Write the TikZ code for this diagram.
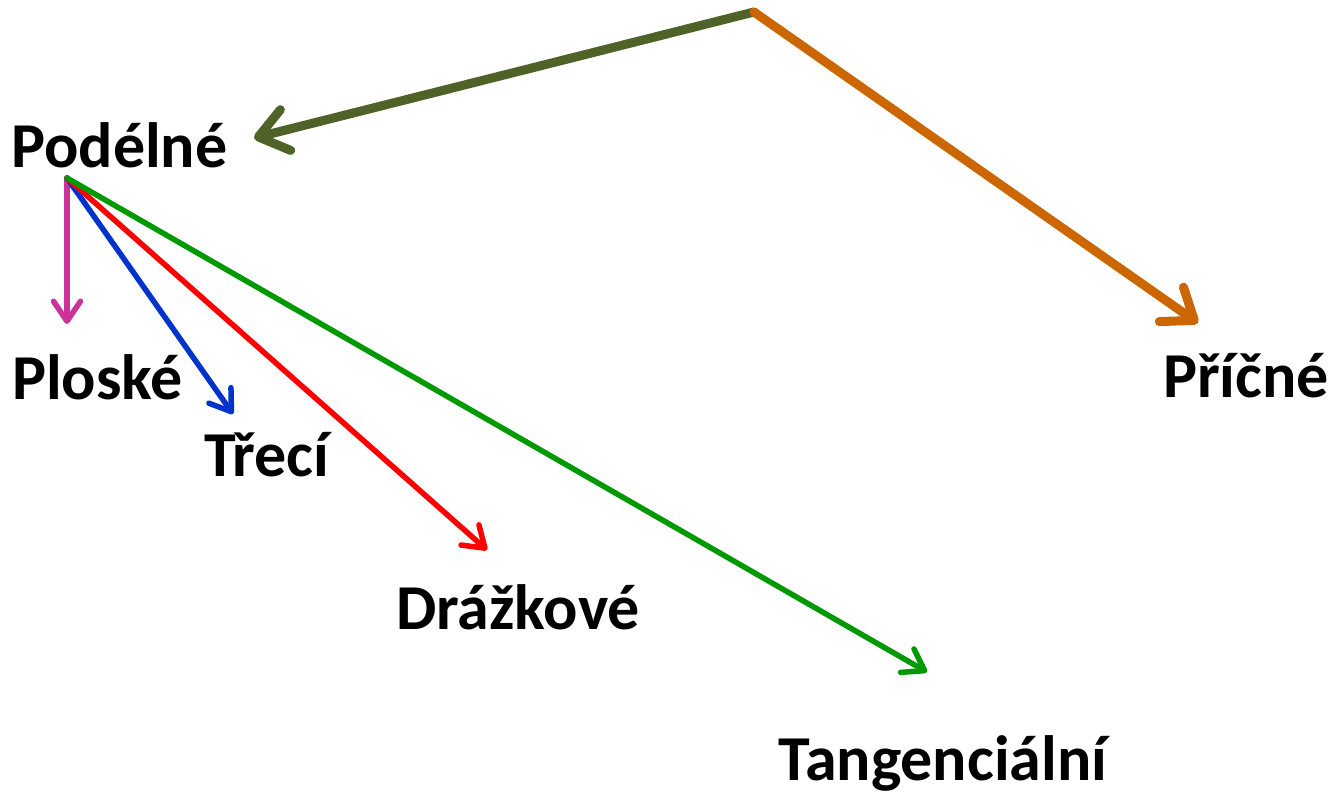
\documentclass[tikz,border=0pt]{standalone}
\usepackage{fontspec}
\setmainfont{Carlito}
\usetikzlibrary{arrows.meta}
\definecolor{olivec}{HTML}{4F6228}
\definecolor{orangec}{HTML}{CC6600}
\definecolor{pinkc}{HTML}{CC3399}
\definecolor{bluec}{HTML}{0033CC}
\definecolor{redc}{HTML}{FF0000}
\definecolor{greenc}{HTML}{009900}
\tikzset{
  lbl/.style={anchor=base west, inner sep=0pt, font=\bfseries\fontsize{64}{72}\selectfont},
  thick arr/.style={line width=9pt, line cap=round, -{Straight Barb[length=28pt, width=42pt, line width=9pt, round]}},
  thin arr/.style={line width=5.5pt, line cap=round, -{Straight Barb[length=20pt, width=27pt, line width=5.5pt, round]}},
}
\begin{document}
\begin{tikzpicture}[x=1pt, y=-1pt]
\useasboundingbox (0,0) rectangle (1331,795);
\node[lbl] (podelne) at (11,167) {Podélné};
\node[lbl] (ploske) at (12,399) {Ploské};
\node[lbl] (treci) at (204,476) {Třecí};
\node[lbl] (drazkove) at (396,629) {Drážkové};
\node[lbl] (tang) at (778,780) {Tangenciální};
\node[lbl] (pricne) at (1163,397) {Příčné};
\coordinate (top) at (754,12);
\coordinate (src) at (67,178);
\coordinate (tpod) at (254,138);
\coordinate (tpri) at (1198,323);
\coordinate (tplo) at (67,324);
\coordinate (ttre) at (233,414);
\coordinate (tdra) at (487,550);
\coordinate (ttan) at (927,672);
\draw[thick arr, olivec] (top) -- (tpod);
\draw[thick arr, orangec] (top) -- (tpri);
\draw[thin arr, pinkc] (src) -- (tplo);
\draw[thin arr, bluec] (src) -- (ttre);
\draw[thin arr, redc] (src) -- (tdra);
\draw[thin arr, greenc] (src) -- (ttan);
\end{tikzpicture}
\end{document}
